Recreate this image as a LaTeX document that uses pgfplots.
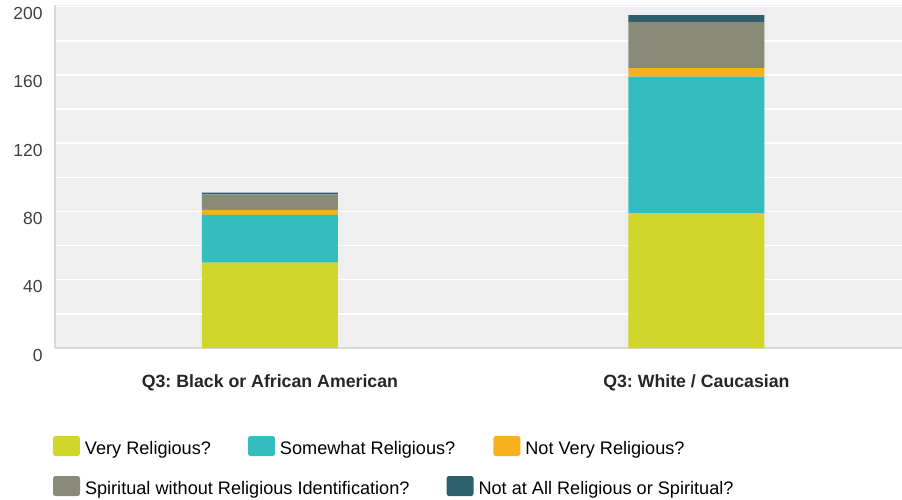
\documentclass[border=0pt]{standalone}
\usepackage{pgfplots}
\pgfplotsset{compat=1.18}
\usepackage{fontspec}
\setmainfont{Liberation Sans}
\frenchspacing
\definecolor{cYel}{HTML}{D0D62A}
\definecolor{cTeal}{HTML}{33BDBF}
\definecolor{cOrg}{HTML}{F7B01E}
\definecolor{cGray}{HTML}{8A8A79}
\definecolor{cDark}{HTML}{2E5F6D}
\definecolor{bgc}{HTML}{EFEFEF}
\definecolor{axc}{HTML}{D8D8D8}
\definecolor{tickc}{HTML}{404040}
\definecolor{labc}{HTML}{262626}
\pgfplotsset{
  sqlegend/.style={legend image code/.code={\fill[##1, rounded corners=2.5bp] (0bp,-7.5bp) rectangle (27bp,12.5bp);}},
}
\begin{document}
\begin{tikzpicture}
\begin{axis}[name=main, at={(0,0)}, anchor=south west,
  scale only axis, width=847bp, height=343bp,
  xmin=-0.504, xmax=1.482, ymin=0, ymax=201,
  ybar stacked, bar width=0.319,
  xtick={0,1}, xticklabels={Q3: Black or African American, Q3: White / Caucasian},
  ytick={0,40,...,200}, minor ytick={20,60,...,180},
  /pgf/number format/assume math mode=true,
  axis background/.style={fill=bgc},
  ymajorgrids, yminorgrids,
  major grid style={white, line width=1.5bp},
  minor grid style={white, line width=1.5bp},
  axis x line*=bottom, axis y line*=left,
  x axis line style={-, draw=axc, line width=1.5bp},
  y axis line style={-, draw=axc, line width=1.5bp},
  tick style={draw=none}, major tick length=0pt, minor tick length=0pt,
  yticklabel style={font=\fontsize{17.5}{20}\selectfont, text=tickc, yshift=-7bp, xshift=-9bp},
  xticklabel style={font=\bfseries\fontsize{17.8}{21}\selectfont, text=labc, yshift=-23bp},
  sqlegend,
  legend columns=3,
  legend style={at={(axis description cs:0,0)}, anchor=north west, xshift=-2bp, yshift=-88bp,
    draw=none, fill=none, inner sep=0pt, outer sep=0pt,
    font=\fontsize{18.2}{21}\selectfont, text=black,
    nodes={inner sep=0pt},
    /tikz/every odd column/.append style={column sep=5bp},
    /tikz/column 2/.style={column sep=37bp},
    /tikz/column 4/.style={column sep=38bp}},
  legend cell align=left,
]
\addplot[fill=cYel, draw=none] coordinates {(0,50) (1,79)};
\addlegendentry{Very Religious?}
\addplot[fill=cTeal, draw=none] coordinates {(0,28) (1,80)};
\addlegendentry{Somewhat Religious?}
\addplot[fill=cOrg, draw=none] coordinates {(0,3) (1,5)};
\addlegendentry{Not Very Religious?}
\addplot[fill=cGray, draw=none] coordinates {(0,9) (1,27)};
\addplot[fill=cDark, draw=none] coordinates {(0,1) (1,4)};
\end{axis}
\begin{axis}[at={(0,0)}, anchor=south west,
  scale only axis, width=847bp, height=343bp,
  xmin=0, xmax=1, ymin=0, ymax=1, hide axis,
  sqlegend,
  legend columns=2,
  legend style={at={(axis description cs:0,0)}, anchor=north west, xshift=-2bp, yshift=-128bp,
    draw=none, fill=none, inner sep=0pt, outer sep=0pt,
    font=\fontsize{18.2}{21}\selectfont, text=black,
    nodes={inner sep=0pt},
    /tikz/every odd column/.append style={column sep=5bp},
    /tikz/column 2/.style={column sep=37bp}},
  legend cell align=left,
]
\addlegendimage{fill=cGray, draw=none}
\addlegendentry{Spiritual without Religious Identification?}
\addlegendimage{fill=cDark, draw=none}
\addlegendentry{Not at All Religious or Spiritual?}
\end{axis}
\pgfresetboundingbox
\path (-55bp,-152bp) rectangle (847bp,348bp);
\end{tikzpicture}
\end{document}
